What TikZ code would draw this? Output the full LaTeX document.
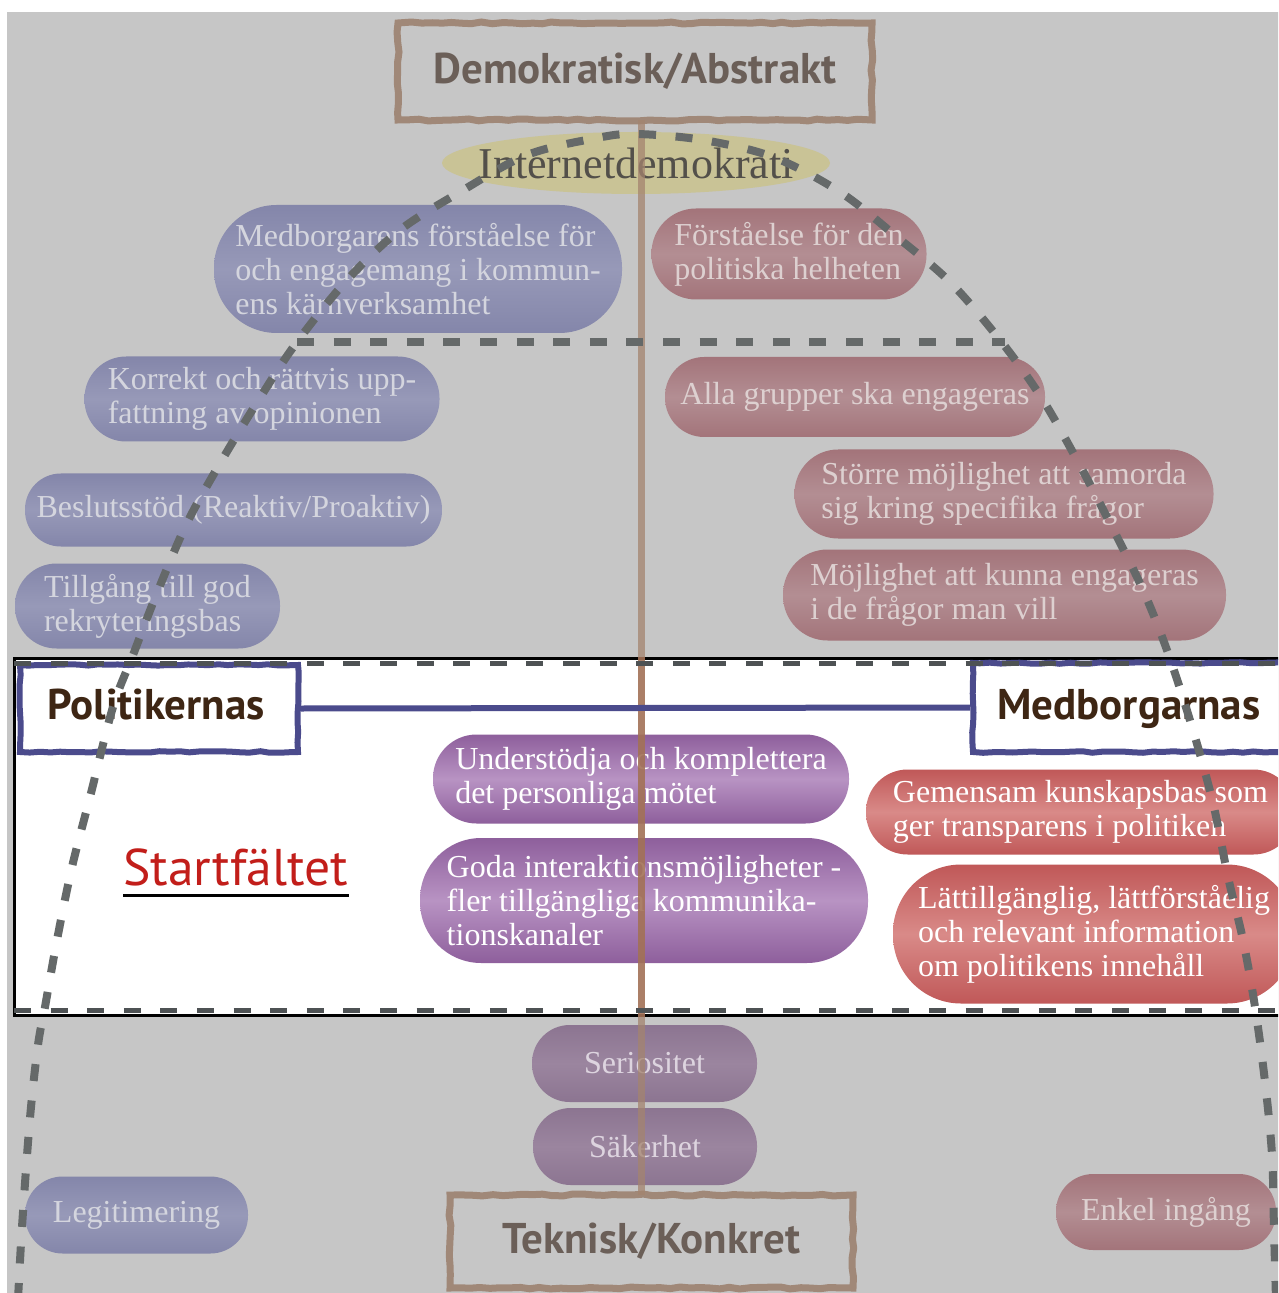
\documentclass[tikz,border=0pt]{standalone}
\usepackage{fontspec}
\setmainfont{Liberation Serif}
\newfontfamily\headfont{PT Sans}
\usetikzlibrary{decorations.pathmorphing,shapes.geometric}
\definecolor{bg}{HTML}{C6C6C6}
\definecolor{fbedge}{HTML}{8486AA}
\definecolor{fbmid}{HTML}{9799B8}
\definecolor{fbtext}{HTML}{D4D5DE}
\definecolor{fredge}{HTML}{A3747A}
\definecolor{frmid}{HTML}{B38E93}
\definecolor{frtext}{HTML}{DDD0D0}
\definecolor{fpedge}{HTML}{8C7591}
\definecolor{fpmid}{HTML}{9B859F}
\definecolor{fptext}{HTML}{DDD4DF}
\definecolor{bpedge}{HTML}{8E5F9C}
\definecolor{bpmid}{HTML}{B893C3}
\definecolor{bredge}{HTML}{C05858}
\definecolor{brmid}{HTML}{D98A88}
\definecolor{ellfill}{HTML}{C9C396}
\definecolor{elltext}{HTML}{53504A}
\definecolor{framebrown}{HTML}{A08878}
\definecolor{frametext}{HTML}{6B5F58}
\definecolor{linebrown}{HTML}{A4846F}
\definecolor{bandbrown}{HTML}{A2684A}
\definecolor{domegrey}{HTML}{656969}
\definecolor{bandgrey}{HTML}{4E5254}
\definecolor{bluefr}{HTML}{4B4B8C}
\definecolor{headbrown}{HTML}{3E2614}
\definecolor{startred}{HTML}{C21E1A}
\tikzset{
  pill/.style 2 args={rectangle, minimum width=#1, minimum height=#2,
    rounded corners={0.49*#2}, inner sep=0pt, align=left,
    font=\fontsize{16}{17}\selectfont},
  fblue/.style={top color=fbedge, bottom color=fbedge, middle color=fbmid, text=fbtext},
  fred/.style={top color=fredge, bottom color=fredge, middle color=frmid, text=frtext},
  fpurple/.style={top color=fpedge, bottom color=fpedge, middle color=fpmid, text=fptext},
  bpurple/.style={top color=bpedge, bottom color=bpedge, middle color=bpmid, text=white},
  bred/.style={top color=bredge, bottom color=bredge, middle color=brmid, text=white},
  roughframe/.style={draw=framebrown, line width=3.5pt, text=frametext,
    font=\headfont\bfseries\fontsize{21.5}{24}\selectfont,
    decorate, decoration={random steps, segment length=5pt, amplitude=0.5pt}},
  bluebox/.style={draw=bluefr, fill=white, line width=3pt,
    decorate, decoration={random steps, segment length=5pt, amplitude=0.4pt}},
  headtext/.style={text=headbrown, inner sep=0pt, anchor=base west,
    font=\headfont\bfseries\fontsize{21.5}{24}\selectfont},
  domeline/.style={draw=domegrey, line width=4pt, dash pattern=on 8.5pt off 9.8pt},
  bandline/.style={draw=bandgrey, line width=2.5pt, dash pattern=on 8.5pt off 9.8pt}
}
\begin{document}
\begin{tikzpicture}[x=0.5pt,y=-0.5pt]
\useasboundingbox (0,0) rectangle (1278,1293);
\clip (0,0) rectangle (1278,1293);
\fill[white] (0,0) rectangle (1278,1293);
\fill[bg] (7,12) rectangle (1290,1300);

% white band
\node[draw=black, fill=white, line width=1.5pt, minimum width=643pt, minimum height=178.5pt, inner sep=0pt] (band) at (657,836.5) {};

% faded pills (politicians, blue)
\node[pill={204pt}{64pt}, fblue] (medb) at (418,269) {Medborgarens förståelse för\\och engagemang i kommun-\\ens kärnverksamhet};
\node[pill={177.5pt}{42.5pt}, fblue] (korr) at (262,399) {Korrekt och rättvis upp-\\fattning av opinionen};
\node[pill={208.5pt}{36.5pt}, fblue] (besl) at (233.5,510) {Beslutsstöd (Reaktiv/Proaktiv)};
\node[pill={132.5pt}{42.5pt}, fblue] (till) at (147.5,606) {Tillgång till god\\rekryteringsbas};
\node[pill={111.5pt}{38.5pt}, fblue] (legi) at (136.5,1215) {Legitimering};

% faded pills (citizens, red)
\node[pill={137.5pt}{45.5pt}, fred] (forst) at (789,254) {Förståelse för den\\politiska helheten};
\node[pill={190pt}{40pt}, fred] (alla) at (855,397) {Alla grupper ska engageras};
\node[pill={209.5pt}{44.5pt}, fred] (storre) at (1004,494) {Större möjlighet att samorda\\sig kring specifika frågor};
\node[pill={221.5pt}{45.5pt}, fred] (mojl) at (1004.5,595) {Möjlighet att kunna engageras\\i de frågor man vill};
\node[pill={110pt}{38pt}, fred] (enkel) at (1166,1212) {Enkel ingång};

% faded pills (shared, purple)
\node[pill={112.5pt}{38.5pt}, fpurple] (serio) at (644.5,1063.5) {Seriositet};
\node[pill={112pt}{38.5pt}, fpurple] (saker) at (645,1146.5) {Säkerhet};

% ellipse
\node[ellipse, fill=ellfill, minimum width=194pt, minimum height=31pt, inner sep=0pt] (inet) at (636,163) {};
\node[text=elltext, inner sep=0pt, font=\fontsize{22}{24}\selectfont] (inettext) at (inet) {Internetdemokrati};

% bright pills in band
\node[pill={208pt}{44.5pt}, bpurple] (underst) at (641,779) {Understödja och komplettera\\det personliga mötet};
\node[pill={224pt}{62.5pt}, bpurple] (goda) at (644,900.5) {Goda interaktionsmöjligheter -\\fler tillgängliga kommunika-\\tionskanaler};
\node[pill={214.5pt}{42.5pt}, bred] (gemen) at (1080.5,812) {Gemensam kunskapsbas som\\ger transparens i politiken};
\node[pill={201pt}{69.5pt}, bred] (latt) at (1094,934) {Lättillgänglig, lättförståelig\\och relevant information\\om politikens innehåll};

% frames
\node[roughframe, minimum width=237pt, minimum height=48.5pt] (demo) at (635,71.5) {Demokratisk/Abstrakt};
\node[roughframe, minimum width=201.5pt, minimum height=46.5pt] (tek) at (651.5,1241.5) {Teknisk/Konkret};

% vertical axis line
\coordinate (ltop) at (641,120);
\coordinate (lbot) at (641,1195);
\draw[linebrown, line width=3.5pt, opacity=0.75] (ltop) -- (lbot);
\draw[bandbrown, line width=3.5pt, opacity=0.6] (ltop |- band.north) -- (lbot |- band.south);

% group label boxes
\node[bluebox, minimum width=139pt, minimum height=43.5pt] (pol) at (159,708.5) {};
\node[bluebox, minimum width=163.5pt, minimum height=44.5pt] (med) at (1136.5,707.5) {};
\draw[bluefr, line width=3pt] (pol.east) -- (med.west);
\node[headtext] (poltext) at (47,719) {Politikernas};
\node[headtext] (medtext) at (997,719) {Medborgarnas};

% Startfältet
\node[text=startred, font=\headfont\fontsize{25.8}{30}\selectfont, inner sep=0pt, anchor=base west] (start) at (123,885) {Startfältet};
\draw[black, line width=1.5pt] ([yshift=-5pt]start.base west) -- ([yshift=-5pt]start.base east);

% band dashed borders
\coordinate (bl1) at (14,663);
\coordinate (br1) at (1290,663);
\coordinate (bl2) at (14,1010);
\coordinate (br2) at (1290,1010);
\draw[bandline] (bl1) -- (br1);
\draw[bandline] (bl2) -- (br2);

% dome
\coordinate (hl) at (297,342);
\coordinate (hr) at (1005,342);
\draw[domeline] plot[smooth, tension=0.55] coordinates {
  (18,1300) (22,1227) (30,1118) (38,1045) (45,1007) (57,940) (72,867) (90,797)
  (113,707) (133,655) (157,593) (187,523) (222,460) (263,393) (297,342)
  (347,280) (400,230) (460,192) (527,155) (597,138) (636,134) (703,140)
  (773,157) (840,192) (897,237) (950,282) (1000,340) (1041,397) (1077,460)
  (1112,527) (1143,590) (1168,653) (1192,727) (1213,803) (1228,877)
  (1243,940) (1255,1007) (1265,1082) (1272,1155) (1274,1230) (1276,1300)};
\draw[domeline] (hl) -- (hr);
\end{tikzpicture}
\end{document}
